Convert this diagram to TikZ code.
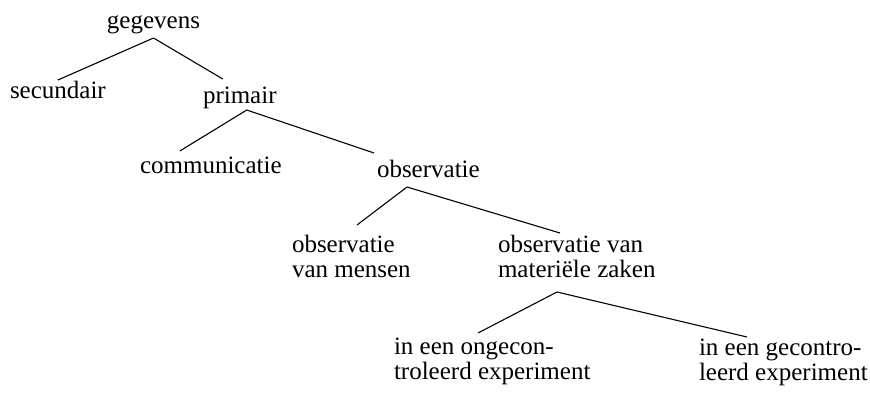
\documentclass[tikz,border=0pt]{standalone}
\usepackage{fontspec}
\setmainfont{Liberation Serif}
\begin{document}
\begin{tikzpicture}[x=1pt, y=-1pt,
    every node/.style={inner sep=0pt, outer sep=0pt, font=\fontsize{25}{25}\selectfont},
    tak/.style={line width=1.1pt}]
            \useasboundingbox (0, 0) rectangle (870, 392);
            % Knopen
            \node [anchor=base] (gegevens) at (153.5, 28) {gegevens};
            \node [anchor=base west] (secundair) at (10, 98) {secundair};
            \node [anchor=base west] (primair) at (203, 103) {primair};
            \node [anchor=base west] (communicatie) at (140, 173) {communicatie};
            \node [anchor=base west] (observatie) at (377, 177) {observatie};
            \node [anchor=base west, align=left] (mensen) at (292, 277) {observatie\\van mensen};
            \node [anchor=base west, align=left] (zaken) at (498, 277) {observatie van\\materiële zaken};
            \node [anchor=base west, align=left] (ongecontroleerd) at (394, 379) {in een ongecon-\\troleerd experiment};
            \node [anchor=base west, align=left] (gecontroleerd) at (699, 380) {in een gecontro-\\leerd experiment};
            % Lijnen
            \draw [tak] ([yshift=-10pt]gegevens.base) -- ([yshift=18pt]secundair.base);
            \draw [tak] ([yshift=-10pt]gegevens.base) -- ([xshift=-17pt, yshift=24pt]primair.base);
            \draw [tak] ([xshift=7pt, yshift=-7pt]primair.base) -- ([xshift=-31pt, yshift=22pt]communicatie.base);
            \draw [tak] ([xshift=7pt, yshift=-7pt]primair.base) -- ([xshift=-3pt, yshift=24pt]observatie.base west);
            \draw [tak] ([xshift=30pt, yshift=-10pt]observatie.base west) -- ([xshift=65pt, yshift=52pt]mensen.base west);
            \draw [tak] ([xshift=30pt, yshift=-10pt]observatie.base west) -- ([xshift=62pt, yshift=44pt]zaken.base west);
            \draw [tak] ([xshift=59pt, yshift=-15pt]zaken.base west) -- ([xshift=84pt, yshift=46pt]ongecontroleerd.base west);
            \draw [tak] ([xshift=59pt, yshift=-15pt]zaken.base west) -- ([xshift=48pt, yshift=43pt]gecontroleerd.base west);
\end{tikzpicture}
\end{document}
